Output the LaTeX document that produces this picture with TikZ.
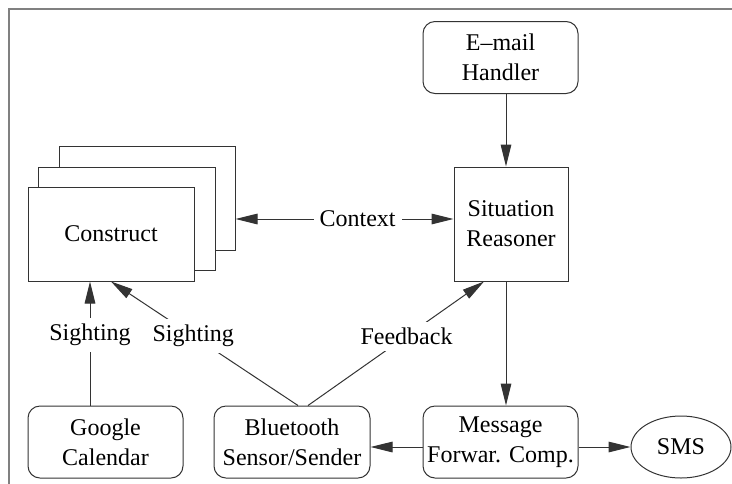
\documentclass[tikz,border=0pt]{standalone}
\usepackage{fontspec}
\setmainfont{Liberation Serif}
\usetikzlibrary{positioning}
\usetikzlibrary{arrows.meta}
\usetikzlibrary{shapes.geometric}

\begin{document}
\begin{tikzpicture}[x=0.5pt,y=-0.5pt,
  >={Triangle[length=11pt,width=5.3pt]},
  every node/.style={font=\fontsize{12}{15}\selectfont, align=center},
  roundbox/.style={draw=black!80, line width=0.5pt, rounded corners=6pt, minimum width=77.5pt, minimum height=36pt, inner sep=0pt},
  sqbox/.style={draw=black!80, line width=0.5pt, fill=white, inner sep=0pt},
  conn/.style={draw=black!80, line width=0.5pt},
  lbl/.style={fill=white, inner sep=3pt}
]
\useasboundingbox (0,0) rectangle (732,483);
\clip (0,0) rectangle (732,483);
%\draw[help lines] (0,0) grid (732,483);
\draw [gray, line width=0.6pt] (9,500) -- (9,9) -- (750,9);

% the stacked constructs
\node [sqbox, minimum width=88pt, minimum height=52pt] (back) at (147,198) {};
\node [sqbox, minimum width=88.5pt, minimum height=51.5pt] (middle) at (126.5,218.5) {};
\node [sqbox, minimum width=83pt, minimum height=47pt] (construct) at (111,234) {Construct};

\node [roundbox] (email) at (500.5,57.5) {E--mail\\Handler};
\node [sqbox, minimum width=57pt, minimum height=57pt] (reasoner) at (511,224) {Situation\\Reasoner};
\node [roundbox] (google) at (105.5,442) {Google\\Calendar};
\node [roundbox, minimum width=78pt] (bluetooth) at (292,442) {Bluetooth\\Sensor/Sender};
\node [roundbox] (message) at (500.5,442) {Message\\Forwar. Comp.};
\node [conn, ellipse, minimum width=50pt, minimum height=31pt, inner sep=0pt] (sms) at (681,447) {SMS};

\draw [conn, ->] ([xshift=2.75pt]email.south) -- ([xshift=-2.5pt]reasoner.north);
\draw [conn, <->] ([yshift=-10.5pt]back.east) -- ([yshift=-10.5pt]back.east -| reasoner.west)
  node [lbl, pos=0.56] {Context};
\draw [conn, ->] ([xshift=-2.5pt]reasoner.south) -- ([xshift=2.75pt]message.north);
\draw [conn, ->] ([yshift=-2.5pt]message.west) -- ([yshift=-2.5pt]message.west -| bluetooth.east);
\draw [conn, ->] ([yshift=-2.5pt]message.east) -- (sms.west);

\draw [conn, ->] ([xshift=-7.75pt]google.north) -- ([xshift=-7.75pt]google.north |- construct.south)
  node [lbl, pos=0.57] {Sighting};
\draw [conn, ->] ([xshift=3pt]bluetooth.north) -- (construct.south)
  node [lbl, pos=0.56] {Sighting};
\draw [conn, ->] ([xshift=8pt]bluetooth.north) -- ([xshift=-13.5pt]reasoner.south)
  node [lbl, pos=0.56] {Feedback};

\end{tikzpicture}
\end{document}
